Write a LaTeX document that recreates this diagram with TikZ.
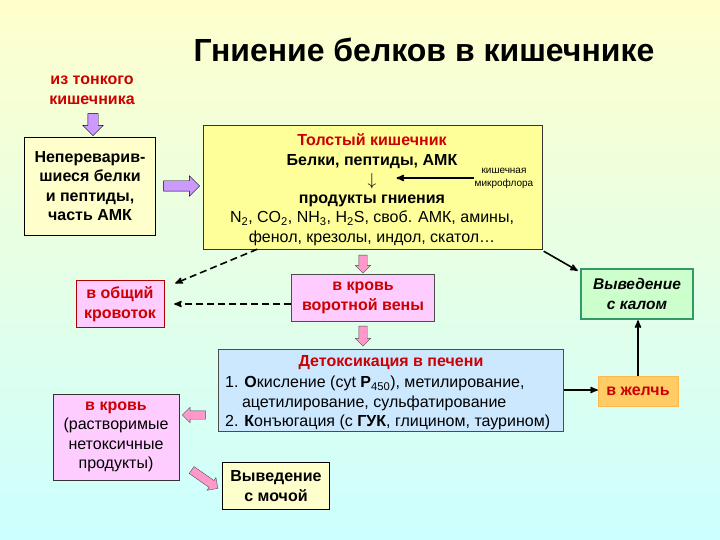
\documentclass[tikz,border=0pt]{standalone}
\usepackage{fontspec}
\setmainfont{Liberation Sans}
\usetikzlibrary{shapes.arrows, positioning, arrows}

\definecolor{bgtop}{HTML}{FFFFCC}
\definecolor{bgbot}{HTML}{CCFFFF}
\definecolor{paleyellow}{HTML}{FFFFCC}
\definecolor{bigyellow}{HTML}{FFFF99}
\definecolor{palepink}{HTML}{FFCCFF}
\definecolor{paleblue}{HTML}{CCE8FF}
\definecolor{palegreen}{HTML}{CCFFCC}
\definecolor{kalgreen}{HTML}{339966}
\definecolor{bilefill}{HTML}{FFCC66}
\definecolor{bileline}{HTML}{FFB84D}
\definecolor{lilacfill}{HTML}{CC99FF}
\definecolor{rosefill}{HTML}{FF99CC}
\definecolor{redtext}{HTML}{CC0000}

\begin{document}
\begin{tikzpicture}
[x=1pt, y=-1pt,
 >=stealth',
 every node/.style={font=\fontsize{16}{19.5}\selectfont, inner sep=1pt},
 boldtxt/.style={font=\fontsize{16}{19.5}\selectfont\bfseries},
 redtxt/.style={boldtxt, text=redtext},
 box/.style={draw, rectangle, align=center},
 yelbox/.style={box, fill=paleyellow},
 pinkbox/.style={box, fill=palepink},
 lilac/.style={single arrow, draw, fill=lilacfill, inner xsep=0pt,
   inner ysep=5pt, single arrow head extend=5pt},
 rosy/.style={single arrow, draw=black!70, fill=rosefill, inner xsep=0pt,
   inner ysep=4pt, single arrow head extend=3.5pt},
 dashline/.style={->, line width=1.6pt, dash pattern=on 7pt off 4pt},
 solidline/.style={->, line width=1.6pt}
]
\fill[top color=bgtop, bottom color=bgbot] (0,0) rectangle (720,540);
\useasboundingbox (0,0) rectangle (720,540);

\node[font=\fontsize{32}{38}\selectfont\bfseries] (title) at (424,50) {Гниение белков в кишечнике};
\node[redtxt, align=center, font=\fontsize{16}{20}\selectfont\bfseries] (fromsmall) at (92,90) {из тонкого\\кишечника};
\node[lilac, rotate=-90, minimum height=22pt] (arrin) at (93,122) {};
\node[yelbox, boldtxt, minimum width=131pt, minimum height=98pt] (undig) at (90,186)
  {Непереварив-\\шиеся белки\\и пептиды,\\часть АМК};
\node[lilac, minimum height=36pt] (arrcolon) at (179,186) {};

% толстый кишечник
\node[box, draw=black!80, fill=bigyellow, minimum width=339pt, minimum height=124pt] (colon) at (373,187) {};
\node[boldtxt, align=center] (colontop) at (372,151) {\textcolor{redtext}{Толстый кишечник}\\Белки, пептиды, АМК};
\node[font=\fontsize{17}{17}\selectfont, inner sep=0pt] (down) at (372,181) {$\downarrow$};
\node[align=center, font=\fontsize{10}{13}\selectfont] (micro) at (504,178) {кишечная\\микрофлора};
\draw[solidline] (micro.west) -- ([xshift=20pt]down.east |- micro.west);
\node[align=center] (products) at (372,220) {{\bfseries продукты гниения}\\
  N\textsubscript{2}, CO\textsubscript{2}, NH\textsubscript{3}, H\textsubscript{2}S, своб. АМК, амины,\\
  фенол, крезолы, индол, скатол…};

\node[rosy, rotate=-90, minimum height=18pt] (arrportal) at (363,262) {};
\node[pinkbox, redtxt, draw=black!70, minimum width=143pt, minimum height=47pt] (portal) at (363,298) {в кровь\\воротной вены};
\node[pinkbox, redtxt, draw=red!70!black, minimum width=88pt, minimum height=47pt] (general) at (120,304) {в общий\\кровоток};
\draw[dashline] ([xshift=54pt]colon.south west) -- ([shift={(11,3)}]general.north east);
\draw[dashline] (portal.west |- general.east) -- ([xshift=10pt]general.east);
\node[rosy, rotate=-90, minimum height=20pt] (arrliver) at (363,334) {};

% печень
\node[box, draw=black!70, fill=paleblue, minimum width=345pt, minimum height=82pt] (liver) at (391,390) {};
\node[redtxt] (livertitle) at (391,363) {Детоксикация в печени};
\node[anchor=west, align=left] (liverlist) at (224,403)
  {1. {\bfseries О}кисление (cyt {\bfseries P}\textsubscript{450}), метилирование,\\
   \hspace*{1.05em}ацетилирование, сульфатирование\\
   2. {\bfseries К}онъюгация (с {\bfseries ГУК}, глицином, таурином)};

\node[box, draw=kalgreen, line width=2.5pt, fill=palegreen, minimum width=112pt, minimum height=50pt,
  font=\fontsize{15.5}{19.5}\selectfont\bfseries\itshape] (feces) at (637,294) {Выведение\\с калом};
\node[box, redtxt, draw=bileline, fill=bilefill, minimum width=80pt, minimum height=30pt] (bile) at (638,391) {в желчь};
\draw[solidline] ([shift={(1,2)}]colon.south east) -- ([shift={(-2,3)}]feces.north west);
\draw[solidline] (liver.east) -- (liver.east -| bile.west);
\draw[solidline] (bile.north) -- (bile.north |- feces.south);

\node[pinkbox, draw=black!80, minimum width=126pt, minimum height=86pt] (blood) at (116,437)
  {\textcolor{redtext}{\bfseries в кровь}\\(растворимые\\нетоксичные\\продукты)};
\node[rosy, rotate=180, minimum height=23pt] (arrblood) at (196,415) {};
\node[rosy, rotate=-35, minimum height=32pt] (arrurine) at (203,478) {};
\node[yelbox, boldtxt, minimum width=107pt, minimum height=47pt] (urine) at (276,486) {Выведение\\с мочой};
\end{tikzpicture}
\end{document}
